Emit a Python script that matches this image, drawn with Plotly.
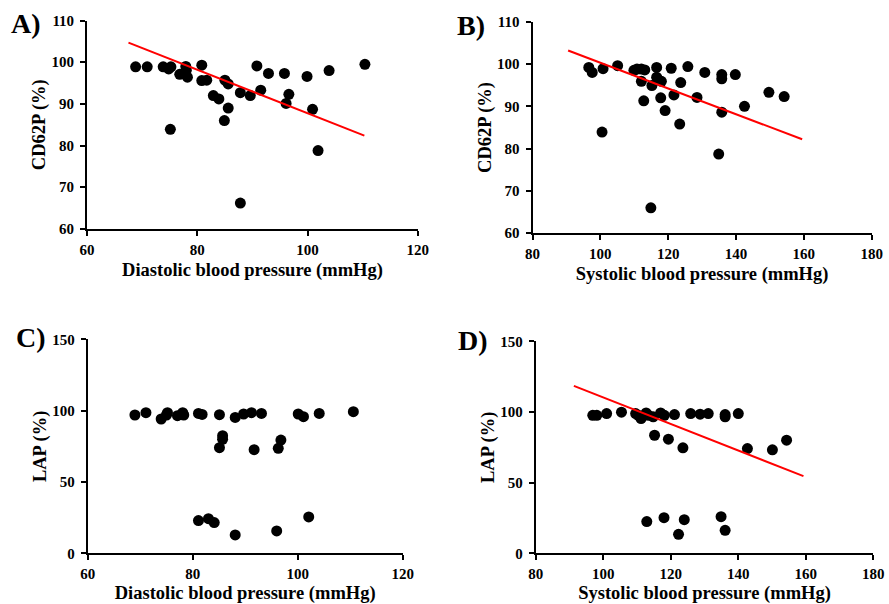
import plotly.graph_objects as go

# Panel A: Diastolic BP vs CD62P
a_x = [68.8, 70.9, 73.8, 74.8, 75.2, 75.1, 76.8, 77.9, 78.0, 78.2, 80.8, 80.8, 81.7, 82.9, 83.9,
       85.0, 85.6, 85.6, 84.9, 87.8, 87.8, 89.6, 90.8, 91.5, 92.9, 95.8, 96.1, 96.6, 99.9, 100.9,
       101.9, 103.9, 110.4]
a_y = [98.9, 98.9, 98.9, 98.4, 98.9, 83.9, 97.1, 99.0, 98.1, 96.4, 99.3, 95.6, 95.7, 92.0, 91.2,
       95.7, 94.8, 89.0, 86.0, 92.7, 66.2, 92.0, 99.1, 93.3, 97.3, 97.3, 90.1, 92.3, 96.6, 88.7,
       78.8, 98.0, 99.5]
a_fit_x = [67.5, 110.3]
a_fit_y = [104.7, 82.4]

# Panel B: Systolic BP vs CD62P
b_x = [96.6, 97.6, 100.8, 100.5, 105.1, 109.9, 110.8, 112.1, 113.1, 112.1, 112.8, 115.2, 116.6,
       116.6, 117.0, 118.0, 117.8, 119.1, 114.9, 120.9, 121.7, 123.7, 123.4, 125.8, 128.5, 130.8,
       134.9, 135.8, 135.8, 135.8, 139.8, 142.5, 149.7, 154.2]
b_y = [99.2, 98.0, 98.9, 83.9, 99.6, 98.5, 98.8, 98.8, 98.6, 95.9, 91.3, 94.9, 99.2,
       96.9, 96.3, 95.9, 92.0, 89.0, 66.0, 99.0, 92.7, 95.6, 85.8, 99.4, 92.1, 98.0,
       78.7, 97.5, 96.5, 88.6, 97.5, 90.0, 93.3, 92.3]
b_fit_x = [90.5, 159.5]
b_fit_y = [103.2, 82.2]

# Panel C: Diastolic BP vs LAP
c_x = [69.0, 71.1, 74.0, 75.2, 75.0, 77.1, 78.1, 78.3, 81.1, 81.8, 81.1, 83.0, 84.1, 85.1, 85.1,
       85.7, 85.7, 88.1, 88.1, 89.7, 91.2, 91.7, 93.1, 96.3, 96.8, 96.0, 100.1, 101.1, 102.1,
       104.1, 110.6]
c_y = [97.0, 98.6, 94.2, 98.6, 97.0, 96.5, 98.6, 97.0, 98.1, 97.4, 22.9, 24.3, 21.5, 97.2, 74.1,
       82.5, 79.9, 95.3, 12.9, 97.7, 98.6, 72.7, 98.1, 73.6, 79.4, 15.7, 97.7, 95.8, 25.5,
       98.1, 99.3]

# Panel D: Systolic BP vs LAP
d_x = [96.9, 98.1, 101.0, 105.4, 109.6, 110.4, 111.2, 112.7, 113.4, 114.8, 117.0, 118.1, 115.2,
       119.3, 123.6, 121.1, 125.9, 128.7, 131.1, 136.1, 136.1, 140.0, 142.7, 150.1, 154.3,
       112.9, 118.0, 122.3, 124.0, 134.9, 136.1]
d_y = [97.6, 97.6, 98.8, 99.8, 98.8, 97.6, 95.3, 99.3, 97.6, 96.5, 99.3, 97.6, 83.5,
       80.7, 74.6, 98.1, 98.8, 98.4, 98.8, 98.1, 96.5, 98.8, 74.1, 73.2, 80.0,
       22.4, 25.2, 13.4, 23.8, 25.9, 16.2]
d_fit_x = [91.3, 159.3]
d_fit_y = [118.4, 54.6]

FONT = "Liberation Serif"
fig = go.Figure()

def scatter(x, y, xa, ya):
    fig.add_trace(go.Scatter(x=x, y=y, mode="markers", xaxis=xa, yaxis=ya,
                             marker=dict(color="black", size=11, line=dict(width=0)),
                             showlegend=False, hoverinfo="skip"))

def fit(x, y, xa, ya):
    fig.add_trace(go.Scatter(x=x, y=y, mode="lines", xaxis=xa, yaxis=ya,
                             line=dict(color="#ff0000", width=2),
                             showlegend=False, hoverinfo="skip"))

scatter(a_x, a_y, "x", "y"); fit(a_fit_x, a_fit_y, "x", "y")
scatter(b_x, b_y, "x2", "y2"); fit(b_fit_x, b_fit_y, "x2", "y2")
scatter(c_x, c_y, "x3", "y3")
scatter(d_x, d_y, "x4", "y4"); fit(d_fit_x, d_fit_y, "x4", "y4")

tickfont = dict(family=FONT, size=15, color="black", weight="bold")
titlefont = dict(family=FONT, size=18.5, color="black", weight="bold")

def xaxis(domain, rng, dtick, anchor, title):
    return dict(domain=domain, range=rng, dtick=dtick, anchor=anchor, showgrid=False,
                zeroline=False, showline=True, linecolor="black", linewidth=2,
                ticks="outside", ticklen=5, tickwidth=2, tickcolor="black",
                automargin=False, ticklabelstandoff=1,
                tickfont=tickfont, title=dict(text=title, font=titlefont, standoff=6))

def yaxis(domain, rng, dtick, anchor, title):
    return dict(domain=domain, range=rng, dtick=dtick, anchor=anchor, showgrid=False,
                zeroline=False, showline=True, linecolor="black", linewidth=2,
                ticks="outside", ticklen=5, tickwidth=2, tickcolor="black",
                automargin=False, ticklabelstandoff=3,
                tickfont=tickfont, title=dict(text=title, font=titlefont, standoff=1))

fig.update_layout(
    width=889, height=604, margin=dict(l=0, r=0, t=0, b=0, autoexpand=False),
    paper_bgcolor="white", plot_bgcolor="white",
    xaxis=xaxis([0.098, 0.470], [60, 120], 20, "y", "Diastolic blood pressure (mmHg)"),
    yaxis=yaxis([0.621, 0.966], [60, 110], 10, "x", "CD62P (%)"),
    xaxis2=xaxis([0.599, 0.9805], [80, 180], 20, "y2", "Systolic blood pressure (mmHg)"),
    yaxis2=yaxis([0.614, 0.964], [60, 110], 10, "x2", "CD62P (%)"),
    xaxis3=xaxis([0.0986, 0.453], [60, 120], 20, "y3", "Diastolic blood pressure (mmHg)"),
    yaxis3=yaxis([0.084, 0.438], [0, 150], 50, "x3", "LAP (%)"),
    xaxis4=xaxis([0.6026, 0.9824], [80, 180], 20, "y4", "Systolic blood pressure (mmHg)"),
    yaxis4=yaxis([0.084, 0.435], [0, 150], 50, "x4", "LAP (%)"),
)

labels = [("A)", 9, 24), ("B)", 455, 25), ("C)", 14, 337), ("D)", 456, 340)]
for text, px, py in labels:
    fig.add_annotation(text=text, x=px / 889, y=1 - py / 604, xref="paper", yref="paper",
                       xanchor="left", yanchor="middle", showarrow=False,
                       font=dict(family=FONT, size=28, color="black", weight="bold"))

fig.write_html("out.html")
